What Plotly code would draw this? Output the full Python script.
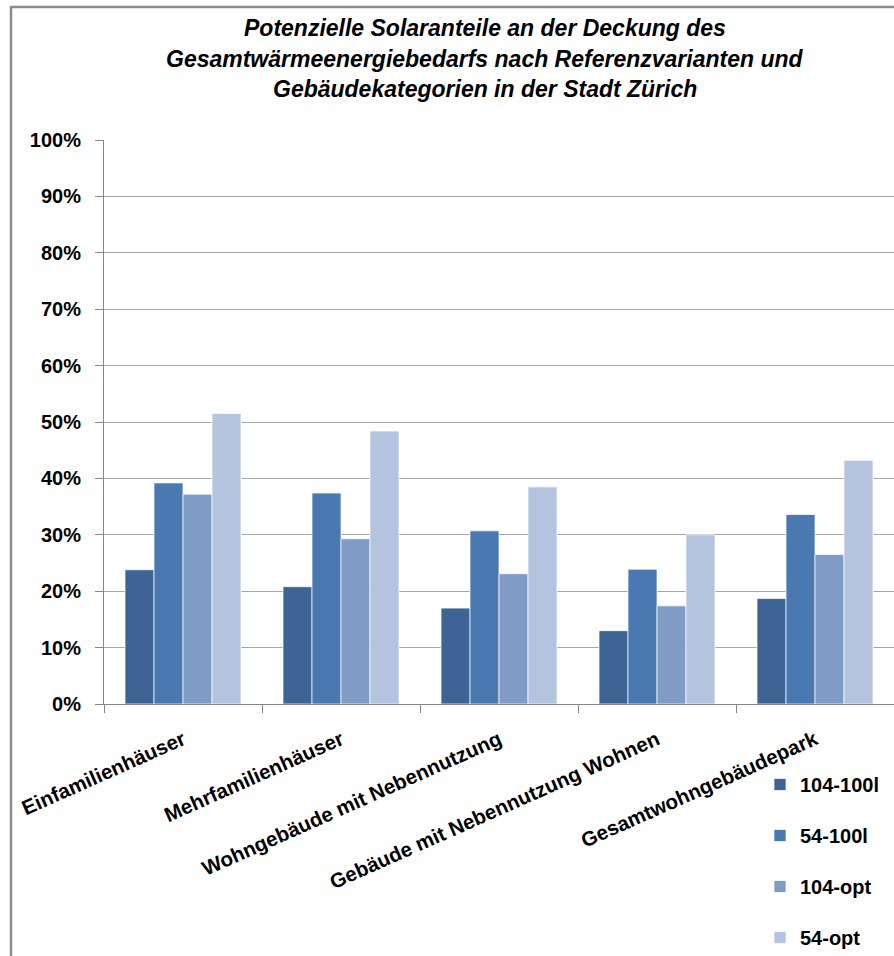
import plotly.graph_objects as go

categories = ["Einfamilienhäuser", "Mehrfamilienhäuser", "Wohngebäude mit Nebennutzung",
              "Gebäude mit Nebennutzung Wohnen", "Gesamtwohngebäudepark"]
series_names = ["104-100l", "54-100l", "104-opt", "54-opt"]
v_104_100l = [23.8, 20.8, 17.0, 13.0, 18.7]
v_54_100l = [39.2, 37.4, 30.7, 23.9, 33.6]
v_104_opt = [37.2, 29.3, 23.1, 17.4, 26.5]
v_54_opt = [51.5, 48.4, 38.5, 30.0, 43.2]
y_ticks = [0, 10, 20, 30, 40, 50, 60, 70, 80, 90, 100]
title_lines = ["Potenzielle Solaranteile an der Deckung des",
               "Gesamtwärmeenergiebedarfs nach Referenzvarianten und",
               "Gebäudekategorien in der Stadt Zürich"]

colors = ["#3D6495", "#4A78B0", "#7F9CC7", "#B5C4DE"]
series_values = [v_104_100l, v_54_100l, v_104_opt, v_54_opt]

FONT = "Liberation Sans, Arial, sans-serif"

fig = go.Figure()
for i, (name, vals) in enumerate(zip(series_names, series_values)):
    fig.add_trace(go.Bar(
        x=categories, y=vals, name=name,
        marker=dict(color=colors[i], line=dict(color="rgba(255,255,255,0.7)", width=1)),
        legendgroup=name,
    ))

W, H = 894, 956
L, R, T, B = 104, 0, 140, 252
PW, PH = W - L - R, H - T - B

fig.update_layout(
    width=W, height=H,
    margin=dict(l=L, r=R, t=T, b=B, autoexpand=False),
    paper_bgcolor="white", plot_bgcolor="white",
    barmode="group", bargap=0.266, bargroupgap=0,
    legend=dict(xref="container", yref="container",
                x=760 / W, xanchor="left",
                y=1 - 765 / H, yanchor="top",
                font=dict(family=FONT, size=20, color="black", weight="bold"),
                tracegroupgap=22, bgcolor="rgba(0,0,0,0)"),
    showlegend=True,
    font=dict(family=FONT, color="black"),
)

# title lines (centre of each line, in pixels from the top)
title_centres = [28, 58.5, 89]
for line, yc in zip(title_lines, title_centres):
    fig.add_annotation(
        text="<b><i>" + line + "</i></b>",
        xref="paper", yref="paper",
        x=(485 - L) / PW, xanchor="center",
        y=(T + PH - yc) / PH, yanchor="middle",
        showarrow=False, align="center",
        font=dict(family=FONT, size=23, color="black"),
    )

fig.update_yaxes(
    range=[0, 100], tickvals=y_ticks, ticktext=[f"{t}%" for t in y_ticks],
    showgrid=True, gridcolor="#A6A6A6", gridwidth=1,
    showline=True, linecolor="#868686", linewidth=1,
    ticks="outside", ticklen=8, tickcolor="#868686",
    ticklabelstandoff=10, automargin=False,
    tickfont=dict(family=FONT, size=20, color="black", weight="bold"),
    zeroline=False, fixedrange=True,
)
fig.update_xaxes(
    showline=True, linecolor="#868686", linewidth=1,
    ticks="outside", ticklen=8, tickcolor="#868686", tickson="boundaries",
    tickangle=-24, automargin=False, ticklabelstandoff=15,
    tickfont=dict(family=FONT, size=20.5, color="black", weight="bold"),
    fixedrange=True,
)

# chart area border (cropped at right and bottom in the reference)
fig.add_shape(type="rect", xref="paper", yref="paper",
              x0=(11 - L) / PW, x1=1.1,
              y0=(T + PH - 7) / PH, y1=-0.6,
              line=dict(color="#8C8C8C", width=2.5), fillcolor="rgba(0,0,0,0)", layer="below")

fig.write_html("out.html", config={"displayModeBar": False},
               post_script="document.body.style.margin='0px';document.body.style.overflow='hidden';")
